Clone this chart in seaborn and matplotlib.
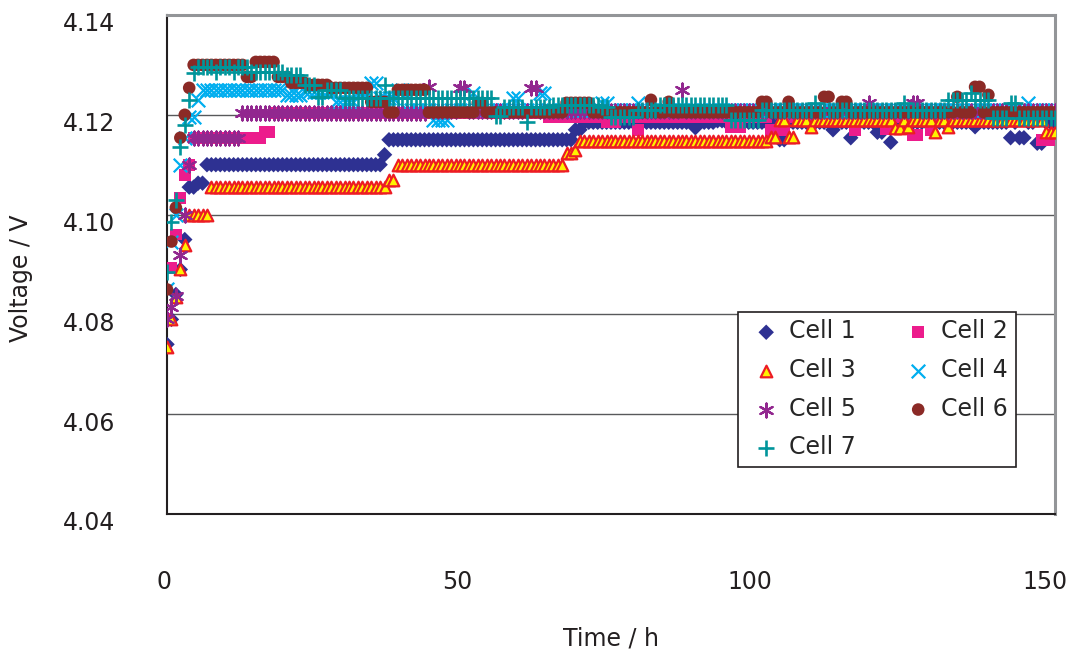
import numpy as np
import matplotlib
matplotlib.use("Agg")
import matplotlib.pyplot as plt
import matplotlib.transforms as mtransforms
import seaborn as sns

# readings every 45 min over the 150 h run
time_h = np.arange(0, 150.01, 0.75)

# voltage levels: start time (h) and the voltage held from then on
cell1_start = [0, 0.75, 1.5, 2.25, 3, 3.75, 5.25, 6.5, 36.5, 37.2, 68.5, 70, 89, 90, 93, 94,
               103.5, 104.3, 112, 113, 115, 116, 120, 120.8, 122.2, 123, 136, 137, 142, 143,
               144, 145, 147, 148]
cell1_volt = [4.074, 4.079, 4.084, 4.089, 4.095, 4.1055, 4.1063, 4.110, 4.112, 4.115, 4.117,
              4.1185, 4.1174, 4.1185, 4.1188, 4.1185, 4.115, 4.1185, 4.117, 4.1185, 4.1154,
              4.1185, 4.1165, 4.1185, 4.1145, 4.1185, 4.1176, 4.1185, 4.1154, 4.1185, 4.1154,
              4.1185, 4.1143, 4.1185]

cell2_start = [0, 0.75, 1.5, 2.25, 3, 3.75, 4.5, 16.5, 18, 64, 74, 76, 79, 80, 95, 97.5, 102,
               105, 116, 117, 121, 122, 126, 127, 128.5, 129.5, 147.5]
cell2_volt = [4.079, 4.0893, 4.096, 4.1033, 4.108, 4.110, 4.1154, 4.1166, 4.1204, 4.1195,
              4.1186, 4.1195, 4.117, 4.1195, 4.1176, 4.1195, 4.117, 4.1195, 4.117, 4.1195,
              4.1172, 4.1195, 4.116, 4.1195, 4.117, 4.1195, 4.115]

cell3_start = [0, 0.75, 1.5, 2.25, 3, 3.75, 7.5, 37.5, 38.3, 67.5, 68.3, 69.5, 101.5, 103, 105,
               106.5, 108.5, 109.5, 123, 124, 125, 126, 129.5, 130.5, 131.5, 132.5, 148]
cell3_volt = [4.0734, 4.079, 4.0835, 4.089, 4.094, 4.100, 4.1055, 4.107, 4.110, 4.1123, 4.113,
              4.1148, 4.1155, 4.119, 4.1155, 4.119, 4.1176, 4.119, 4.1174, 4.119, 4.1176,
              4.119, 4.1165, 4.119, 4.1176, 4.119, 4.1165]

cell4_start = [0, 0.75, 1.5, 2.25, 3, 3.75, 5.25, 6, 20, 23, 28, 32, 34.5, 36, 39, 40.5, 45,
               47.5, 51.5, 52.5, 58.5, 59.5, 63, 64, 73.5, 74.5, 79, 80, 145, 146]
cell4_volt = [4.085, 4.0946, 4.100, 4.110, 4.1154, 4.1195, 4.123, 4.125, 4.124, 4.1245,
              4.1226, 4.1245, 4.1264, 4.1234, 4.125, 4.121, 4.119, 4.121, 4.1244, 4.121,
              4.1234, 4.121, 4.1244, 4.121, 4.1224, 4.121, 4.1224, 4.121, 4.1224, 4.121]

cell5_start = [0, 0.75, 1.5, 2.25, 3, 3.75, 4.5, 12.5, 44, 45, 49.5, 50.5, 61.5, 62.5, 86.5,
               87.5, 118, 119, 126, 127]
cell5_volt = [4.079, 4.0815, 4.0836, 4.092, 4.100, 4.110, 4.1154, 4.1204, 4.1256, 4.1208,
              4.1254, 4.1208, 4.1254, 4.1208, 4.125, 4.1208, 4.1224, 4.1208, 4.1224, 4.1208]

cell6_start = [0, 0.75, 1.5, 2.25, 3, 3.75, 4.5, 13.5, 14.5, 18.6, 21, 23.6, 27.5, 33.8, 37.5,
               38.3, 44, 52.5, 53.5, 67, 72, 81.5, 82.3, 84.5, 85.5, 100.5, 101.3, 104.5,
               105.3, 111, 112, 113.5, 115, 133, 134, 136.5, 137.3, 138.2, 139]
cell6_volt = [4.085, 4.0946, 4.1014, 4.1154, 4.120, 4.1254, 4.130, 4.1276, 4.1306, 4.1276,
              4.1264, 4.126, 4.1254, 4.1226, 4.1205, 4.125, 4.1205, 4.1224, 4.1205, 4.1224,
              4.1205, 4.123, 4.1205, 4.1226, 4.1205, 4.1226, 4.1205, 4.1226, 4.1205, 4.1236,
              4.1205, 4.1226, 4.1205, 4.1236, 4.1205, 4.1256, 4.1205, 4.124, 4.1205]

cell7_start = [0, 0.75, 1.5, 2.25, 3, 3.75, 4.5, 5.25, 8, 9, 11, 12, 14, 20, 23, 25, 27, 30,
               36.5, 37.3, 55.5, 57, 60.5, 61.5, 65, 73, 75, 79, 83, 95, 100, 109, 110, 124,
               125, 132, 135.5, 136.5, 139.5, 142.5, 143.5]
cell7_volt = [4.0884, 4.0986, 4.103, 4.1136, 4.118, 4.123, 4.1284, 4.1296, 4.1286, 4.1296,
              4.1286, 4.1296, 4.1286, 4.128, 4.126, 4.1236, 4.125, 4.1234, 4.126, 4.1234,
              4.1198, 4.1215, 4.1186, 4.1215, 4.122, 4.1215, 4.1196, 4.121, 4.122, 4.119,
              4.121, 4.1224, 4.121, 4.1224, 4.121, 4.123, 4.1244, 4.123, 4.1194, 4.1224, 4.1194]

cell_names = ["Cell 1", "Cell 2", "Cell 3", "Cell 4", "Cell 5", "Cell 6", "Cell 7"]
cell_starts = [cell1_start, cell2_start, cell3_start, cell4_start, cell5_start, cell6_start, cell7_start]
cell_volts = [cell1_volt, cell2_volt, cell3_volt, cell4_volt, cell5_volt, cell6_volt, cell7_volt]

x_ticks = [0, 50, 100, 150]
y_ticks = [4.04, 4.06, 4.08, 4.10, 4.12, 4.14]
y_tick_labels = ["4.04", "4.06", "4.08", "4.10", "4.12", "4.14"]

# marker styles per cell (Excel-like)
styles = [
    dict(marker="D", s=62, color="#2E3192", edgecolor="none", linewidth=0),
    dict(marker="s", s=72, color="#EC1C8C", edgecolor="none", linewidth=0),
    dict(marker="^", s=70, color="#FFF200", edgecolor="#ED1C24", linewidth=1.6),
    dict(marker="x", s=95, color="#00AEEF", linewidth=1.6),
    dict(marker=(6, 2, 0), s=100, color="#92278F", linewidth=1.6),
    dict(marker="o", s=82, color="#8B2A26", edgecolor="none", linewidth=0),
    dict(marker="+", s=120, color="#00959B", linewidth=1.9),
]


def hold(starts, volts):
    idx = np.searchsorted(starts, time_h, side="right") - 1
    return np.asarray(volts)[idx]


sns.set_style("white")
plt.rcParams["font.family"] = ["DejaVu Sans"]
FS = 17

fig = plt.figure(figsize=(10.69, 6.51), dpi=100)
ax = fig.add_axes([167 / 1069, 1 - 514 / 651, 888 / 1069, 499 / 651])

for name, st, vo, kw in zip(cell_names, cell_starts, cell_volts, styles):
    sns.scatterplot(x=time_h, y=hold(st, vo), ax=ax, label=name, zorder=3, **kw)

ax.set_xlim(0, 150)
ax.set_ylim(4.04, 4.14)
ax.set_xticks(x_ticks)
ax.set_yticks(y_ticks)
ax.set_yticklabels(y_tick_labels)
ax.tick_params(axis="both", direction="in", labelsize=FS, colors="#231F20")
ax.tick_params(axis="x", length=12, width=1, pad=40)
ax.tick_params(axis="y", length=12, width=1.5, pad=37)
ax.grid(axis="y", color="#58595B", linewidth=1)
ax.grid(axis="x", visible=False)
ax.set_axisbelow(True)

# Excel-style label placement: y labels sit a little low, x labels a little left
down = mtransforms.ScaledTranslation(0, -0.07, fig.dpi_scale_trans)
for lab in ax.get_yticklabels():
    lab.set_transform(lab.get_transform() + down)
for lab, dx in zip(ax.get_xticklabels(), [-3, -6, -9, -10]):
    lab.set_transform(lab.get_transform() + mtransforms.ScaledTranslation(dx / 100, 0, fig.dpi_scale_trans))

for side in ["left", "bottom"]:
    ax.spines[side].set_color("#231F20")
    ax.spines[side].set_linewidth(1.5)
for side in ["top", "right"]:
    ax.spines[side].set_color("#939598")
    ax.spines[side].set_linewidth(2.2)

ax.set_xlabel("Time / h", fontsize=FS, color="#231F20")
ax.set_ylabel("Voltage / V", fontsize=FS, color="#231F20")
ax.xaxis.set_label_coords(0.5, -0.225)
ax.yaxis.set_label_coords(-0.151, 0.473)

handles, labels = ax.get_legend_handles_labels()
order = [0, 2, 4, 6, 1, 3, 5]
leg = ax.legend([handles[i] for i in order], [labels[i] for i in order], ncol=2,
                loc="upper left", bbox_to_anchor=(0.643, 0.405), borderaxespad=0,
                fontsize=FS, frameon=True, fancybox=False, edgecolor="#231F20",
                framealpha=1, handlelength=1.75, handletextpad=0.1, columnspacing=1.75,
                labelspacing=0.62, borderpad=0.32)
leg.get_frame().set_linewidth(1.2)

plt.savefig("out.png", dpi=100)
